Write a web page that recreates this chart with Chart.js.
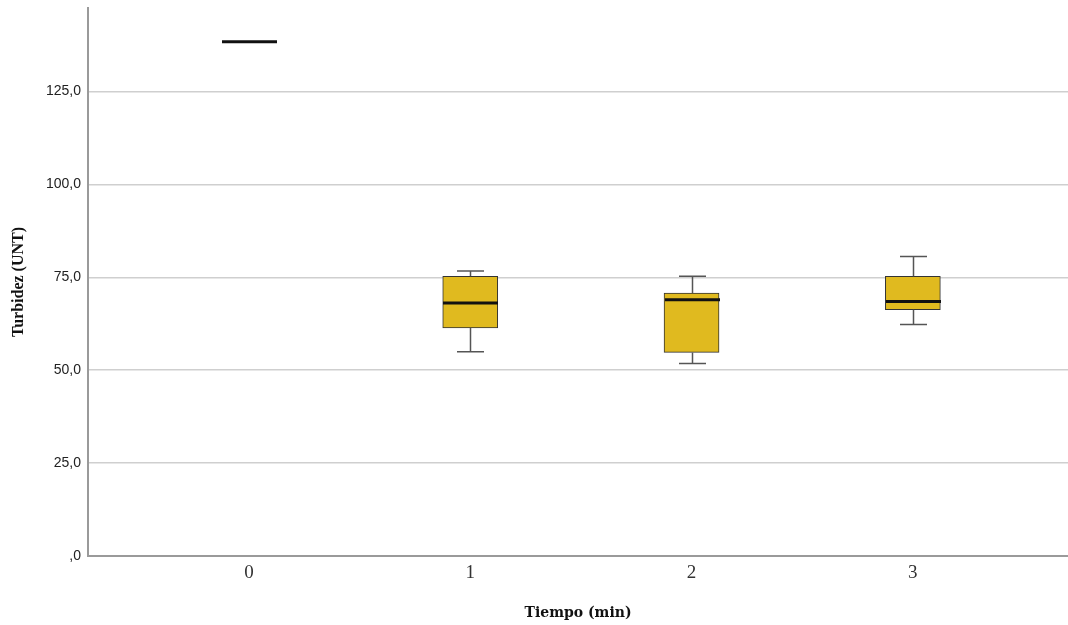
<!DOCTYPE html>
<html>
<head>
<meta charset="utf-8">
<title>Turbidez por tiempo</title>
<script src="https://cdn.jsdelivr.net/npm/chart.js@4.4.1/dist/chart.umd.min.js"></script>
<style>
  html, body { margin: 0; padding: 0; background: #fff; }
  #wrap { width: 1068px; height: 625px; }
</style>
</head>
<body>
<div id="wrap"><canvas id="boxChart" width="1068" height="625"></canvas></div>
<script>
// Five-number summaries per time step (NTU)
const categories = ['0', '1', '2', '3'];
const minVals    = [138.4, 55.0, 51.8, 62.3];
const q1Vals     = [138.4, 61.4, 54.8, 66.3];
const medianVals = [138.4, 68.1, 69.0, 68.5];
const q3Vals     = [138.4, 75.3, 70.8, 75.3];
const maxVals    = [138.4, 76.7, 75.3, 80.6];
const yTicks     = [0, 25, 50, 75, 100, 125];

const boxWidth = 55;
const capWidth = 27;

// whiskers and medians drawn on top of the floating bars
const boxplotExtras = {
    id: 'boxplotExtras',
    afterDatasetsDraw(chart) {
        const ctx = chart.ctx;
        const xs = chart.scales.x;
        const ys = chart.scales.y;
        ctx.save();
        categories.forEach((c, i) => {
            const x = Math.round(xs.getPixelForValue(i)) + 0.5;
            const yMin = ys.getPixelForValue(minVals[i]);
            const yQ1 = ys.getPixelForValue(q1Vals[i]);
            const yMed = ys.getPixelForValue(medianVals[i]);
            const yQ3 = ys.getPixelForValue(q3Vals[i]);
            const yMax = ys.getPixelForValue(maxVals[i]);

            ctx.strokeStyle = '#555';
            ctx.lineWidth = 1.5;
            ctx.beginPath();
            if (yMax < yQ3) {
                ctx.moveTo(x, yMax); ctx.lineTo(x, yQ3);
                ctx.moveTo(x - capWidth / 2, yMax); ctx.lineTo(x + capWidth / 2, yMax);
            }
            if (yMin > yQ1) {
                ctx.moveTo(x, yQ1); ctx.lineTo(x, yMin);
                ctx.moveTo(x - capWidth / 2, yMin); ctx.lineTo(x + capWidth / 2, yMin);
            }
            ctx.stroke();

            ctx.strokeStyle = '#111';
            ctx.lineWidth = 3;
            ctx.beginPath();
            ctx.moveTo(x - boxWidth / 2, yMed);
            ctx.lineTo(x + boxWidth / 2, yMed);
            ctx.stroke();
        });
        ctx.restore();
    }
};

const ctx = document.getElementById('boxChart').getContext('2d');
new Chart(ctx, {
    type: 'bar',
    data: {
        datasets: [{
            data: categories.map((c, i) => ({ x: i, y: [q1Vals[i], q3Vals[i]] })),
            backgroundColor: '#E0BA1F',
            borderColor: '#333',
            borderWidth: 1,
            borderSkipped: false,
            barThickness: boxWidth
        }]
    },
    options: {
        responsive: false,
        animation: false,
        layout: {
            padding: { top: 8, right: 0, left: 0, bottom: 0 }
        },
        plugins: {
            legend: { display: false },
            tooltip: { enabled: false }
        },
        scales: {
            x: {
                type: 'linear',
                offset: false,
                min: -0.727,
                max: 3.701,
                afterFit: (scale) => {
                    scale.height = 69;
                    scale.paddingLeft = 0;
                    scale.paddingRight = 0;
                },
                afterBuildTicks: (scale) => {
                    scale.ticks = categories.map((c, i) => ({ value: i }));
                },
                ticks: {
                    callback: (v) => categories[v],
                    color: '#333',
                    padding: 6,
                    font: { family: 'Liberation Serif', size: 19 }
                },
                grid: { display: false, drawTicks: false },
                border: { display: true, color: '#9a9a9a', width: 2 },
                title: {
                    display: true,
                    text: 'Tiempo (min)',
                    color: '#111',
                    padding: { top: 4, bottom: 3 },
                    font: { family: 'DejaVu Serif', size: 14, weight: 'bold' }
                }
            },
            y: {
                min: 0,
                max: 147.5,
                afterFit: (scale) => {
                    scale.width = 88;
                    scale.paddingTop = 0;
                    scale.paddingBottom = 0;
                },
                afterBuildTicks: (scale) => {
                    scale.ticks = yTicks.map(v => ({ value: v }));
                },
                ticks: {
                    callback: (v) => v === 0 ? ',0' : v.toFixed(1).replace('.', ','),
                    color: '#222',
                    padding: 7,
                    font: { family: 'Liberation Sans', size: 14 }
                },
                grid: {
                    drawTicks: false,
                    color: (c) => c.tick && c.tick.value === 0 ? 'rgba(0,0,0,0)' : '#cfcfcf',
                    lineWidth: 1.5
                },
                border: { display: true, color: '#9a9a9a', width: 2 },
                title: {
                    display: true,
                    text: 'Turbidez (UNT)',
                    color: '#111',
                    padding: { top: 9, bottom: 4 },
                    font: { family: 'Liberation Serif', size: 16, weight: 'bold' }
                }
            }
        }
    },
    plugins: [boxplotExtras]
});
</script>
</body>
</html>
